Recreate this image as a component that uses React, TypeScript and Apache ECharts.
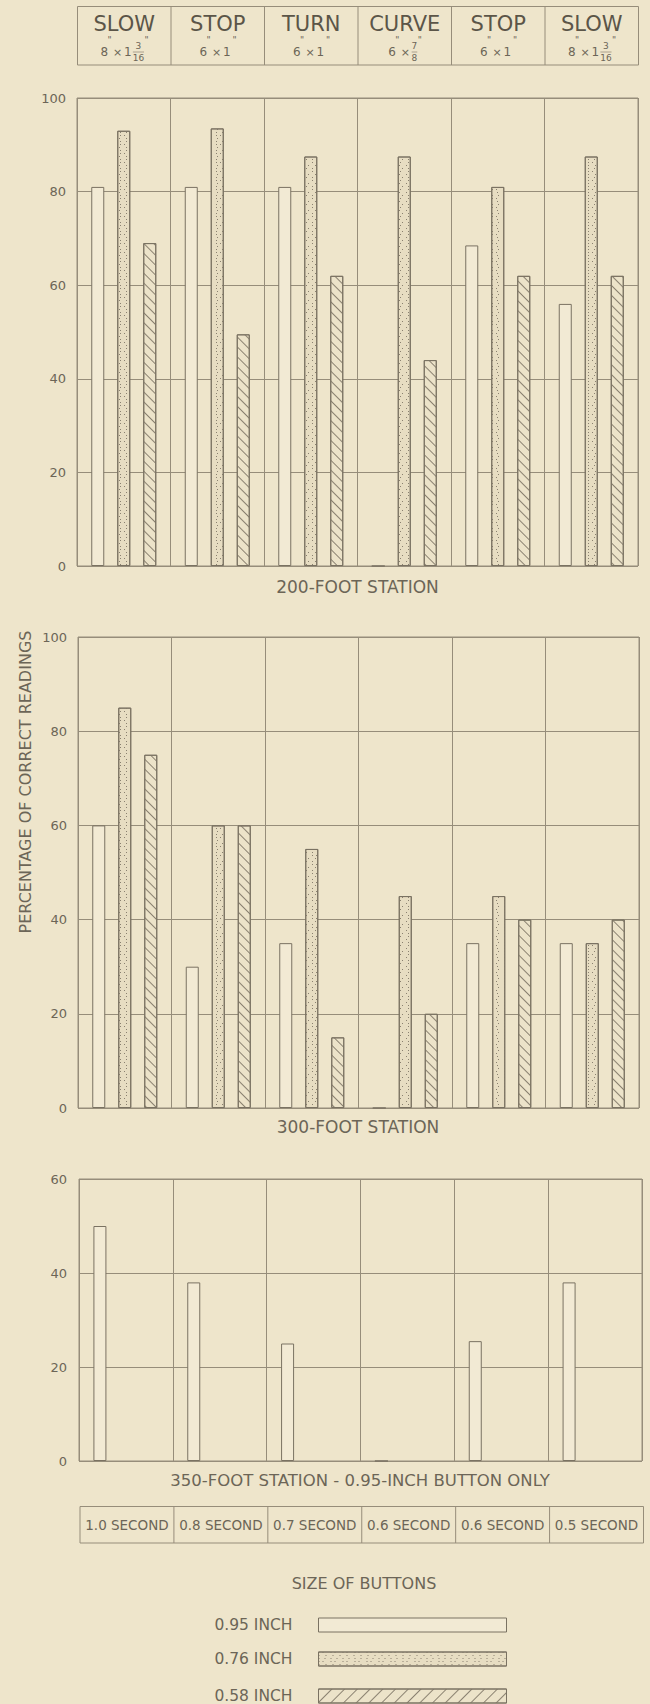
import React, { useEffect, useRef } from "react";
import * as echarts from "echarts";

// ---------------- data ----------------
const signNames = ["SLOW", "STOP", "TURN", "CURVE", "STOP", "SLOW"];
const signWidthInches = ["8", "6", "6", "6", "6", "8"];
const signHeightWhole = ["1", "1", "1", "", "1", "1"];
const signHeightFracNum = ["3", "", "", "7", "", "3"];
const signHeightFracDen = ["16", "", "", "8", "", "16"];
const exposureTimes = ["1.0 SECOND", "0.8 SECOND", "0.7 SECOND", "0.6 SECOND", "0.6 SECOND", "0.5 SECOND"];
const buttonSizes = ["0.95 INCH", "0.76 INCH", "0.58 INCH"];

const station200Button095 = [81, 81, 81, 0, 68.5, 56];
const station200Button076 = [93, 93.5, 87.5, 87.5, 81, 87.5];
const station200Button058 = [69, 49.5, 62, 44, 62, 62];

const station300Button095 = [60, 30, 35, 0, 35, 35];
const station300Button076 = [85, 60, 55, 45, 45, 35];
const station300Button058 = [75, 60, 15, 20, 40, 40];

const station350Button095 = [50, 38, 25, 0, 25.5, 38];
const noButtonTested = [null, null, null, null, null, null];

const yTicksFull = [0, 20, 40, 60, 80, 100];
const yTicksShort = [0, 20, 40, 60];

const stationTitles = ["200-FOOT STATION", "300-FOOT STATION", "350-FOOT STATION - 0.95-INCH BUTTON ONLY"];
const yAxisTitle = "PERCENTAGE OF CORRECT READINGS";
const legendTitle = "SIZE OF BUTTONS";

// ---------------- style ----------------
const W = 650;
const H = 1704;
const BG = "#eee5cb";
const LINE = "#968d7a";
const TEXT = "#6c6557";
const DARK = "#5b5548";
const BAR_STROKE = "#7a7262";
const FILL95 = "#f2ead4";
const FILL76 = "#e7ddc2";
const FILL58 = "#ece3c9";
const FONT = '"DejaVu Sans", "Liberation Sans", sans-serif';

const grids = [
  { left: 77, top: 98, width: 561, height: 468 },
  { left: 78, top: 637, width: 561, height: 471 },
  { left: 79, top: 1179, width: 563, height: 282 },
];
const legendRowCenters = [1624, 1658, 1695];

const stipple = {
  symbol: "rect",
  symbolSize: 1,
  color: "#8a8170",
  dashArrayX: [[1, 5], [1, 3, 1, 7], [1, 6]],
  dashArrayY: [1, 2],
};
const hatchBars = {
  symbol: "rect",
  symbolSize: 1,
  color: "#8a8170",
  dashArrayX: [1, 0],
  dashArrayY: [1, 6],
  rotation: Math.PI / 4,
};
const hatchLegend = { ...hatchBars, dashArrayY: [1, 8], rotation: -Math.PI / 4 };

function txt(text: string, x: number, y: number, fontSize: number, fill = TEXT, extra: any = {}) {
  return {
    type: "text",
    silent: true,
    ...extra,
    style: { text, x, y, fontSize, fontFamily: FONT, fill, align: "center", verticalAlign: "middle", ...(extra.style || {}) },
  };
}

function line(x1: number, y1: number, x2: number, y2: number, stroke = LINE, w = 1) {
  return { type: "line", silent: true, shape: { x1, y1, x2, y2 }, style: { stroke, lineWidth: w } };
}

function signSubLabel(i: number, cx: number, cy: number) {
  const fs = 12, fsFrac = 9, fsMark = 9;
  const dw = (s: string, f: number) => s.length * f * 0.62;
  const parts: any[] = [];
  let x = 0;
  parts.push({ t: signWidthInches[i], x, y: cy, f: fs });
  x += dw(signWidthInches[i], fs);
  parts.push({ t: '"', x: x - 0.5, y: cy - 12, f: fsMark });
  x += 5;
  parts.push({ t: "\u00d7", x, y: cy, f: 11 });
  x += 11;
  const whole = signHeightWhole[i];
  if (whole) {
    parts.push({ t: whole, x, y: cy, f: fs });
    x += dw(whole, fs) + 1.5;
  }
  const num = signHeightFracNum[i];
  const den = signHeightFracDen[i];
  let fracLine: number[] | null = null;
  if (num) {
    const fw = Math.max(dw(num, fsFrac), dw(den, fsFrac));
    parts.push({ t: num, x: x + fw / 2, y: cy - 6, f: fsFrac, c: true });
    parts.push({ t: den, x: x + fw / 2, y: cy + 6, f: fsFrac, c: true });
    fracLine = [x, x + fw];
    x += fw;
  }
  parts.push({ t: '"', x: x + 0.5, y: cy - 12, f: fsMark });
  x += 4;
  const off = cx - x / 2;
  const els: any[] = parts.map((p) =>
    txt(p.t, p.x + off, p.y, p.f, TEXT, { style: { align: p.c ? "center" : "left" } })
  );
  if (fracLine) els.push(line(fracLine[0] + off, cy, fracLine[1] + off, cy, "#9a917e", 0.8));
  return els;
}

function buildGraphic() {
  const g: any[] = [];
  // header box
  const hx = 77.5, hy = 6.5, hw = 561, hh = 58.5, cw = hw / 6;
  g.push({ type: "rect", silent: true, shape: { x: hx, y: hy, width: hw, height: hh }, style: { fill: "none", stroke: LINE, lineWidth: 1 } });
  for (let k = 1; k < 6; k++) g.push(line(hx + cw * k, hy, hx + cw * k, hy + hh));
  signNames.forEach((n, i) => {
    const cx = hx + cw * (i + 0.5);
    g.push(txt(n, cx, 24, 21, DARK));
    g.push(...signSubLabel(i, cx, 52));
  });
  // station titles
  g.push(txt(stationTitles[0], 357.5, 587, 17));
  g.push(txt(stationTitles[1], 358, 1127, 17));
  g.push(txt(stationTitles[2], 360, 1480, 16.5));
  // y axis title
  g.push({
    type: "text",
    silent: true,
    x: 25,
    y: 782,
    rotation: Math.PI / 2,
    style: { text: yAxisTitle, x: 0, y: 0, fontSize: 16, fontFamily: FONT, fill: TEXT, align: "center", verticalAlign: "middle" },
  });
  // exposure time box
  const bx = 80, by = 1506.5, bw = 563.5, bh = 36.5, bcw = bw / 6;
  g.push({ type: "rect", silent: true, shape: { x: bx, y: by, width: bw, height: bh }, style: { fill: "none", stroke: LINE, lineWidth: 1 } });
  for (let k = 1; k < 6; k++) g.push(line(bx + bcw * k, by, bx + bcw * k, by + bh));
  exposureTimes.forEach((t, i) => g.push(txt(t, bx + bcw * (i + 0.5), by + bh / 2, 13.5)));
  // legend title
  g.push(txt(legendTitle, 364, 1583, 16));
  return g;
}

function buildOption() {
  const yTickSets = [yTicksFull, yTicksFull, yTicksShort];
  const xAxis = grids.map((_, i) => ({
    type: "category",
    gridIndex: i,
    data: signNames,
    boundaryGap: true,
    axisLine: { show: false },
    axisTick: { show: false },
    axisLabel: { show: false },
    splitLine: { show: true, interval: 0, lineStyle: { color: LINE, width: 1 } },
  }));
  const yAxis = yTickSets.map((t, i) => ({
    type: "value",
    gridIndex: i,
    min: t[0],
    max: t[t.length - 1],
    interval: t[1] - t[0],
    axisLine: { show: false },
    axisTick: { show: false },
    axisLabel: { color: TEXT, fontSize: 13, fontFamily: FONT, margin: i === 2 ? 12 : 11 },
    splitLine: { show: true, lineStyle: { color: LINE, width: 1 } },
  }));
  const styles: any[] = [
    { color: FILL95 },
    { color: FILL76, decal: stipple },
    { color: FILL58, decal: hatchBars },
  ];
  const legendStyles: any[] = [
    { color: FILL95 },
    { color: FILL76, decal: stipple },
    { color: FILL58, decal: hatchLegend },
  ];
  const seriesData = [
    [station200Button095, station200Button076, station200Button058],
    [station300Button095, station300Button076, station300Button058],
    [station350Button095, noButtonTested, noButtonTested],
  ];
  const series: any[] = [];
  seriesData.forEach((set, gi) =>
    set.forEach((data, si) =>
      series.push({
        type: "bar",
        name: buttonSizes[si],
        data,
        xAxisIndex: gi,
        yAxisIndex: gi,
        barWidth: 13,
        barGap: "100%",
        silent: true,
        emphasis: { disabled: true },
        itemStyle: { ...styles[si], borderColor: BAR_STROKE, borderWidth: 1 },
      })
    )
  );
  const legend = buttonSizes.map((name, i) => ({
    orient: "horizontal",
    right: 143,
    top: legendRowCenters[i] - 7,
    padding: 0,
    itemWidth: 188,
    itemHeight: 14,
    align: "right",
    icon: "rect",
    selectedMode: false,
    textStyle: { color: TEXT, fontSize: 15.5, fontFamily: FONT, padding: [0, 21, 0, 0], lineHeight: 14 },
    itemStyle: { borderColor: BAR_STROKE, borderWidth: 1 },
    data: [{ name, itemStyle: { ...legendStyles[i] } }],
  }));
  return {
    animation: false,
    backgroundColor: BG,
    grid: grids.map((g) => ({ ...g, show: true, borderColor: LINE, borderWidth: 1, backgroundColor: "transparent" })),
    xAxis,
    yAxis,
    series,
    legend,
    graphic: buildGraphic(),
  };
}

export default function App() {
  const ref = useRef<HTMLDivElement>(null);
  useEffect(() => {
    document.body.style.margin = "0";
    document.body.style.background = BG;
    const chart = echarts.init(ref.current!, null, { renderer: "svg" });
    chart.setOption(buildOption() as any);
    return () => chart.dispose();
  }, []);
  return (
    <div
      ref={ref}
      style={{ position: "absolute", left: 0, top: 0, width: W, height: H, background: BG }}
    />
  );
}
